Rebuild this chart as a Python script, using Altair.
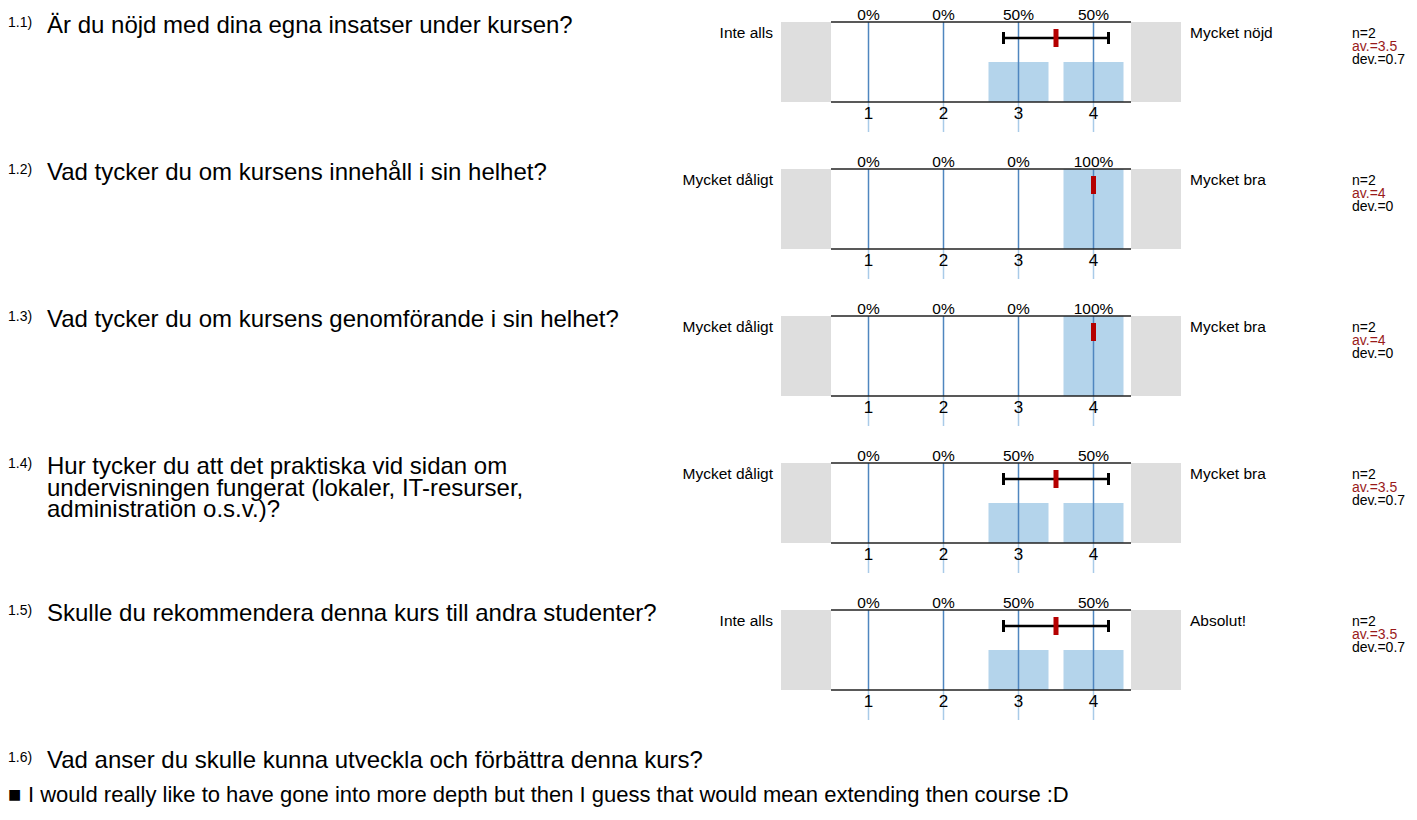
import altair as alt
import pandas as pd

# ---------------- data ----------------
question_ids = ["1.1)", "1.2)", "1.3)", "1.4)", "1.5)"]
questions = [
    "Är du nöjd med dina egna insatser under kursen?",
    "Vad tycker du om kursens innehåll i sin helhet?",
    "Vad tycker du om kursens genomförande i sin helhet?",
    "Hur tycker du att det praktiska vid sidan om\nundervisningen fungerat (lokaler, IT-resurser,\nadministration o.s.v.)?",
    "Skulle du rekommendera denna kurs till andra studenter?",
]
left_labels = ["Inte alls", "Mycket dåligt", "Mycket dåligt", "Mycket dåligt", "Inte alls"]
right_labels = ["Mycket nöjd", "Mycket bra", "Mycket bra", "Mycket bra", "Absolut!"]
scale_options = [1, 2, 3, 4]
percentages = [
    [0, 0, 50, 50],
    [0, 0, 0, 100],
    [0, 0, 0, 100],
    [0, 0, 50, 50],
    [0, 0, 50, 50],
]
n_values = [2, 2, 2, 2, 2]
averages = [3.5, 4, 4, 3.5, 3.5]
deviations = [0.7, 0, 0, 0.7, 0.7]
open_question_id = "1.6)"
open_question = "Vad anser du skulle kunna utveckla och förbättra denna kurs?"
comments = ["I would really like to have gone into more depth but then I guess that would mean extending then course :D"]

# ---------------- tables built from the lists ----------------
opts_df = pd.DataFrame([
    {"row": i, "option": o, "pct": p}
    for i in range(len(questions))
    for o, p in zip(scale_options, percentages[i])
])
info_df = pd.DataFrame({
    "row": list(range(len(questions))),
    "qid": question_ids, "q": questions,
    "left": left_labels, "right": right_labels,
    "n": n_values, "av": averages, "dev": deviations,
})
open_df = pd.DataFrame({
    "row": [len(questions)], "qid": [open_question_id],
    "q": [open_question], "c": comments,
})

# ---------------- layout / style ----------------
FONT = "Liberation Sans"
W, H = 1401, 812
ROW_H = 147                 # px between panels
PANEL_TOP0 = 14             # chart px of first panel top
PANEL_H = 80                # px for 0..100 %
PX_PER_PCT = PANEL_H / 100
PX_PER_UNIT = 75            # px per answer option
PANEL_LEFT = 823            # chart px of option 0.5

ROW_UNITS = ROW_H / PX_PER_PCT
TOP_UNITS = (PANEL_TOP0 + PANEL_H) / PX_PER_PCT
X_DOMAIN = [0.5 - PANEL_LEFT / PX_PER_UNIT, 0.5 + (W - PANEL_LEFT) / PX_PER_UNIT]
Y_DOMAIN = [TOP_UNITS - H / PX_PER_PCT, TOP_UNITS]

xs = alt.Scale(domain=X_DOMAIN, nice=False, zero=False)
ys = alt.Scale(domain=Y_DOMAIN, nice=False, zero=False)


def below_top(px):
    """value (in % units, relative to row base) of a point px below the panel top"""
    return 100 - px / PX_PER_PCT


LO = min(scale_options) - 0.5
HI = max(scale_options) + 0.5
SIDE = 2 / 3

GRAY = "#dedede"
BAR = "#b4d4eb"
LINE = "#4f86bf"
FAINT = "#a9cbe8"
RED = "#b50000"
AVCOL = "#991a1a"


def X(f):
    return alt.X(f, scale=xs, axis=None)


def Y(f):
    return alt.Y(f, scale=ys, axis=None)


def based(df):
    return alt.Chart(df).transform_calculate(base=f"-datum.row * {ROW_UNITS}")


layers = []

# grey end boxes
for a, b in [(LO - SIDE, LO), (HI, HI + SIDE)]:
    layers.append(
        based(info_df).transform_calculate(
            xa=f"{a}", xb=f"{b}", y0="datum.base", y1="datum.base + 100"
        ).mark_rect(color=GRAY).encode(x=X("xa:Q"), x2="xb:Q", y=Y("y0:Q"), y2="y1:Q")
    )

# bars
layers.append(
    based(opts_df).transform_filter("datum.pct > 0").transform_calculate(
        a="datum.option - 0.4", b="datum.option + 0.4",
        y0="datum.base", y1="datum.base + datum.pct"
    ).mark_rect(color=BAR).encode(x=X("a:Q"), x2="b:Q", y=Y("y0:Q"), y2="y1:Q")
)

# option lines inside panel and faint extension below
layers.append(
    based(opts_df).transform_calculate(y0="datum.base", y1="datum.base + 100")
    .mark_rule(color=LINE, strokeWidth=1.5).encode(x=X("option:Q"), y=Y("y0:Q"), y2="y1:Q")
)
layers.append(
    based(opts_df).transform_calculate(y0="datum.base", y1=f"datum.base + {below_top(110)}")
    .mark_rule(color=FAINT, strokeWidth=1.5).encode(x=X("option:Q"), y=Y("y0:Q"), y2="y1:Q")
)

# top and bottom frame lines
for off in [0, 100]:
    layers.append(
        based(info_df).transform_calculate(xa=f"{LO}", xb=f"{HI}", yy=f"datum.base + {off}")
        .mark_rule(color="#222222", strokeWidth=1.6).encode(x=X("xa:Q"), x2="xb:Q", y=Y("yy:Q"))
    )

# error bars (av +- dev)
ERR_Y = below_top(16)
err_base = based(info_df).transform_filter("datum.dev > 0").transform_calculate(
    lo="datum.av - datum.dev", hi="datum.av + datum.dev", ey=f"datum.base + {ERR_Y}",
    c0=f"datum.base + {below_top(22)}", c1=f"datum.base + {below_top(10)}"
)
layers.append(err_base.mark_rule(color="black", strokeWidth=2.5).encode(
    x=X("lo:Q"), x2="hi:Q", y=Y("ey:Q")))
layers.append(err_base.transform_fold(["lo", "hi"], as_=["end", "xv"]).mark_rule(
    color="black", strokeWidth=3).encode(x=X("xv:Q"), y=Y("c0:Q"), y2="c1:Q"))

# mean marker
layers.append(
    based(info_df).transform_calculate(
        m0=f"datum.base + {below_top(25)}", m1=f"datum.base + {below_top(7)}")
    .mark_rule(color=RED, strokeWidth=5).encode(x=X("av:Q"), y=Y("m0:Q"), y2="m1:Q")
)

# percent labels above and option numbers below
layers.append(
    based(opts_df).transform_calculate(lbl="datum.pct + '%'", ty=f"datum.base + {below_top(-2.5)}")
    .mark_text(font=FONT, fontSize=15.5, baseline="alphabetic", color="black")
    .encode(x=X("option:Q"), y=Y("ty:Q"), text="lbl:N")
)
layers.append(
    based(opts_df).transform_calculate(ty=f"datum.base + {below_top(92)}")
    .mark_text(font=FONT, fontSize=17, baseline="middle", color="black")
    .encode(x=X("option:Q"), y=Y("ty:Q"), text="option:N")
)

# anchor labels
layers.append(
    based(info_df).transform_calculate(ty=f"datum.base + {below_top(10.5)}")
    .mark_text(font=FONT, fontSize=15.5, align="right", baseline="middle", color="black")
    .encode(x=alt.value(765), y=Y("ty:Q"), text="left:N")
)
layers.append(
    based(info_df).transform_calculate(ty=f"datum.base + {below_top(10.5)}")
    .mark_text(font=FONT, fontSize=15.5, align="left", baseline="middle", color="black")
    .encode(x=alt.value(1182), y=Y("ty:Q"), text="right:N")
)

# statistics
for expr, off, col in [("'n=' + datum.n", 12, "black"),
                       ("'av.=' + datum.av", 25, AVCOL),
                       ("'dev.=' + datum.dev", 38, "black")]:
    layers.append(
        based(info_df).transform_calculate(t=expr, ty=f"datum.base + {below_top(off)}")
        .mark_text(font=FONT, fontSize=14, align="left", baseline="middle", color=col)
        .encode(x=alt.value(1344), y=Y("ty:Q"), text="t:N")
    )

# question numbers and texts (incl. the open question)
for df in [info_df, open_df]:
    layers.append(
        based(df).transform_calculate(ty=f"datum.base + {below_top(5)}")
        .mark_text(font=FONT, fontSize=14, align="left", baseline="alphabetic", color="black")
        .encode(x=alt.value(0), y=Y("ty:Q"), text="qid:N")
    )
    layers.append(
        based(df).transform_calculate(ty=f"datum.base + {below_top(11)}")
        .mark_text(font=FONT, fontSize=24, align="left", baseline="alphabetic",
                   lineBreak="\n", lineHeight=21.5, color="black")
        .encode(x=alt.value(39), y=Y("ty:Q"), text="q:N")
    )

# comment with square bullet
layers.append(
    based(open_df).transform_calculate(sq="'■'", ty=f"datum.base + {below_top(45)}")
    .mark_text(font=FONT, fontSize=22, align="left", baseline="alphabetic", color="black")
    .encode(x=alt.value(0), y=Y("ty:Q"), text="sq:N")
)
layers.append(
    based(open_df).transform_calculate(ty=f"datum.base + {below_top(45)}")
    .mark_text(font=FONT, fontSize=22, align="left", baseline="alphabetic", color="black")
    .encode(x=alt.value(20), y=Y("ty:Q"), text="c:N")
)

chart = alt.layer(*layers).properties(
    width=W, height=H, padding=0,
    autosize=alt.AutoSizeParams(type="none"),
).configure(background="white").configure_view(stroke=None)

chart.save("out.html", embed_options={"renderer": "svg", "actions": False})
